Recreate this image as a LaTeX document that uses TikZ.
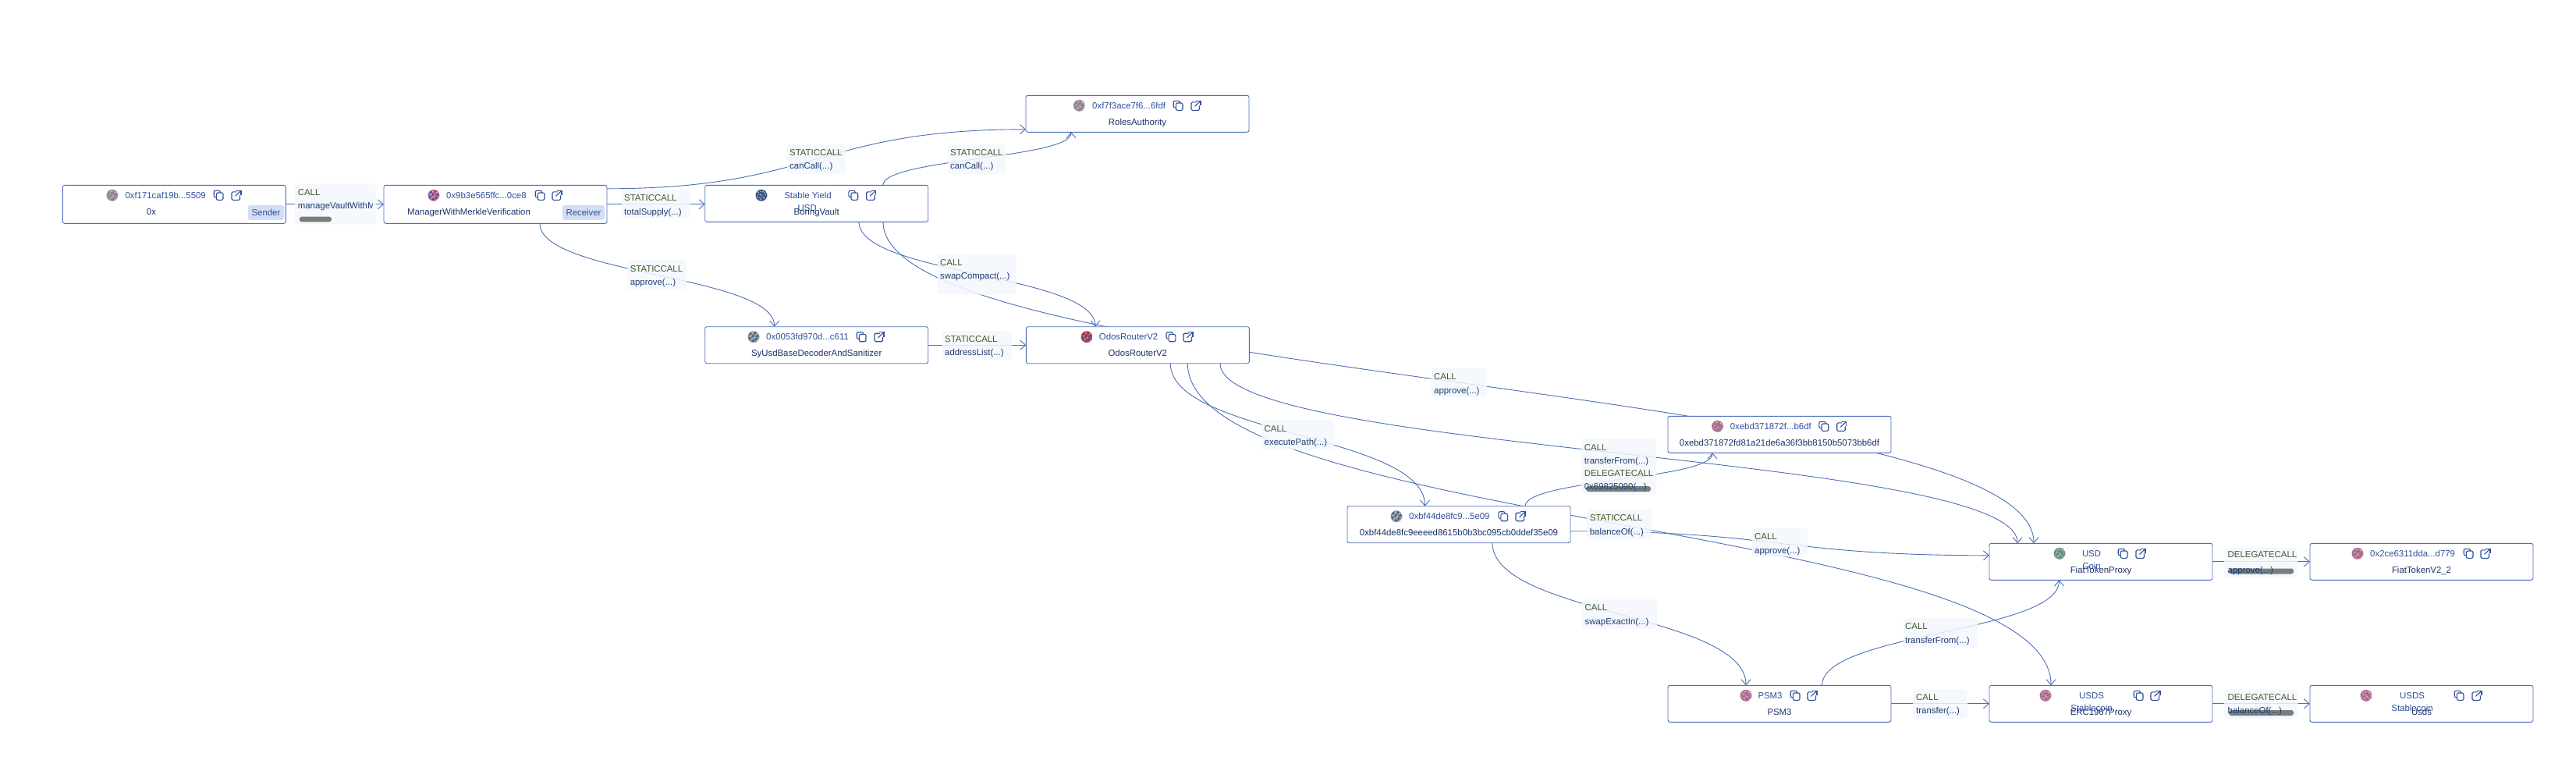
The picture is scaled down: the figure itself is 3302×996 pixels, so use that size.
\documentclass[tikz,border=0pt]{standalone}
\usepackage{xcolor}
\usepackage{fontspec}
\setmainfont{Liberation Sans}
\usetikzlibrary{arrows.meta}
\definecolor{flowblue}{HTML}{4C6FB8}
\definecolor{addrblue}{HTML}{2F4F9C}
\definecolor{namenavy}{HTML}{1C3068}
\definecolor{tagfill}{HTML}{D2DEF5}
\definecolor{tagtext}{HTML}{2F4F8C}
\definecolor{calltext}{HTML}{445A2A}
\definecolor{fntext}{HTML}{1F3C74}
\definecolor{lblfill}{HTML}{F4F7FC}
\definecolor{barfill}{HTML}{787D7D}
\definecolor{avgrey}{HTML}{8E9A9A}
\definecolor{avpink}{HTML}{C46A9A}
\definecolor{avnavy}{HTML}{34508C}
\definecolor{avred}{HTML}{C2445E}
\definecolor{avgreen}{HTML}{6F9A80}
\pgfdeclarelayer{edges}
\pgfsetlayers{edges,main}
\tikzset{
  boxnode/.style={draw=flowblue, fill=white, line width=0.9pt, rounded corners=2.5pt, minimum width=286pt, minimum height=47pt, inner sep=0pt, outer sep=0pt},
  addrtext/.style={text=addrblue, inner sep=0pt, font=\fontsize{11.4}{11.4}\selectfont},
  nametext/.style={text=namenavy, inner sep=0pt, font=\fontsize{11.4}{11.4}\selectfont},
  tagnode/.style={fill=tagfill, text=tagtext, rounded corners=3pt, minimum height=19pt, inner sep=0pt, font=\fontsize{11.4}{11.4}\selectfont},
  typetext/.style={text=calltext, inner sep=0pt, font=\fontsize{11.4}{11.4}\selectfont},
  fntextnode/.style={text=fntext, inner sep=0pt, font=\fontsize{11.4}{11.4}\selectfont},
  lblbg/.style={fill=lblfill, fill opacity=0.85, rounded corners=4pt, inner sep=0pt},
  scrollbar/.style={fill=barfill, rounded corners=3pt},
  flow/.style={draw=flowblue, line width=0.9pt, -{Straight Barb[length=7pt,width=12pt]}},
  pics/copyicon/.style={code={
    \draw[addrblue, line width=1.1pt, rounded corners=2pt] (-2.7,-3.3) rectangle (6,6);
    \draw[addrblue, line width=1.1pt, rounded corners=2pt] (-3.2,2.5) -- (-5.8,2.5) -- (-5.8,-6) -- (2.5,-6) -- (2.5,-3.5);
  }},
  pics/exticon/.style={code={
    \draw[addrblue, line width=1.1pt, rounded corners=1.5pt] (0.5,-4.5) -- (-6,-4.5) -- (-6,6) -- (4.5,6) -- (4.5,0);
    \draw[addrblue, line width=1.1pt] (-1.5,1) -- (6,-6);
    \draw[addrblue, line width=1.1pt] (0,-6) -- (6,-6) -- (6,0);
  }},
  pics/avatar/.style 2 args={code={
    \begin{scope}
      \clip (0,0) circle (7.5);
      \fill[#1] (0,0) circle (7.5);
      \foreach \ax/\ay in {-4/-4,2/-5,5/-1,-1/-1,-5/2,3/3,-1/5}
        \fill[#2] (\ax,\ay) circle (1.5);
      \foreach \ax/\ay in {-1/-5,4/-4,1/1,-4/-1,-2/3,5/5}
        \fill[white, opacity=0.6] (\ax,\ay) circle (0.9);
      \foreach \ax/\ay in {-6/-1,1/-3,3/0,-3/1,1/5}
        \fill[avnavy, opacity=0.7] (\ax,\ay) circle (0.8);
    \end{scope}
  }},
}

\begin{document}
\begin{tikzpicture}[x=1pt, y=-1pt]
  \useasboundingbox (0,0) rectangle (3302,996);

  % Row of the sender
  \begin{scope}[shift={(80.3,237.3)}]
    \node[boxnode, minimum height=49pt] (src) at (143,24.5) {};
    \pic at (63.7,13) {avatar={avgrey}{avpink}};
    \node[addrtext, anchor=base west] (srcaddr) at (80,17) {0xf171caf19b...5509};
    \pic at (199.7,13) {copyicon};
    \pic at (222.7,13) {exticon};
    \node[nametext, anchor=base] (srcname) at (113.7,38) {0x};
    \node[tagnode, minimum width=46.3pt] (srctag) at (260.7,35) {Sender};
  \end{scope}

  \begin{scope}[shift={(492,237.3)}]
    \node[boxnode, minimum height=49pt] (mgr) at (143,24.5) {};
    \pic at (64,13) {avatar={avpink}{avnavy}};
    \node[addrtext, anchor=base west] (mgraddr) at (80,17) {0x9b3e565ffc...0ce8};
    \pic at (200,13) {copyicon};
    \pic at (222,13) {exticon};
    \node[nametext, anchor=base] (mgrname) at (109,38) {ManagerWithMerkleVerification};
    \node[tagnode, minimum width=54pt] (mgrtag) at (256,35) {Receiver};
  \end{scope}

  \begin{scope}[shift={(903.7,237.3)}]
    \node[boxnode] (vault) at (143,23.5) {};
    \pic at (72.3,13) {avatar={avnavy}{avgrey}};
    \node[addrtext, anchor=base] (vaultaddr) at (131.8,17) {Stable Yield};
    \node[addrtext, anchor=base] (vaultaddrb) at (131,33) {USD};
    \pic at (190,13) {copyicon};
    \pic at (213,13) {exticon};
    \node[nametext, anchor=base] (vaultname) at (143,38) {BoringVault};
  \end{scope}

  \begin{scope}[shift={(1315,122.3)}]
    \node[boxnode] (roles) at (143,23.5) {};
    \pic at (68.4,13) {avatar={avgrey}{avpink}};
    \node[addrtext, anchor=base west] (rolesaddr) at (85,17) {0xf7f3ace7f6...6fdf};
    \pic at (195,13) {copyicon};
    \pic at (218,13) {exticon};
    \node[nametext, anchor=base] (rolesname) at (143,38) {RolesAuthority};
  \end{scope}

  % Middle row
  \begin{scope}[shift={(903.7,418.7)}]
    \node[boxnode] (dec) at (143,23.5) {};
    \pic at (62.3,13) {avatar={avgrey}{avnavy}};
    \node[addrtext, anchor=base west] (decaddr) at (78.3,17) {0x0053fd970d...c611};
    \pic at (200.3,13) {copyicon};
    \pic at (223.3,13) {exticon};
    \node[nametext, anchor=base] (decname) at (143,38) {SyUsdBaseDecoderAndSanitizer};
  \end{scope}

  \begin{scope}[shift={(1315.3,418.7)}]
    \node[boxnode] (odos) at (143,23.5) {};
    \pic at (77.7,13) {avatar={avred}{avnavy}};
    \node[addrtext, anchor=base] (odosaddr) at (131.3,17) {OdosRouterV2};
    \pic at (185.5,13) {copyicon};
    \pic at (207.7,13) {exticon};
    \node[nametext, anchor=base] (odosname) at (143,38) {OdosRouterV2};
  \end{scope}

  \begin{scope}[shift={(1727,648.7)}]
    \node[boxnode] (exec) at (143,23.5) {};
    \pic at (63,13) {avatar={avgrey}{avnavy}};
    \node[addrtext, anchor=base west] (execaddr) at (79,17) {0xbf44de8fc9...5e09};
    \pic at (199.6,13) {copyicon};
    \pic at (222,13) {exticon};
    \node[nametext, anchor=base] (execname) at (143,38) {0xbf44de8fc9eeeed8615b0b3bc095cb0ddef35e09};
  \end{scope}

  \begin{scope}[shift={(2138,533.3)}]
    \node[boxnode] (pool) at (143,23.5) {};
    \pic at (63.6,13) {avatar={avpink}{avgreen}};
    \node[addrtext, anchor=base west] (pooladdr) at (79.6,17) {0xebd371872f...b6df};
    \pic at (199.7,13) {copyicon};
    \pic at (222.7,13) {exticon};
    \node[nametext, anchor=base] (poolname) at (143,38) {0xebd371872fd81a21de6a36f3bb8150b5073bb6df};
  \end{scope}

  % Token proxies and their implementations
  \begin{scope}[shift={(2550,696.3)}]
    \node[boxnode] (fiat) at (143,23.5) {};
    \pic at (90,13) {avatar={avgreen}{avgrey}};
    \node[addrtext, anchor=base] (fiataddr) at (131,17) {USD};
    \node[addrtext, anchor=base] (fiataddrb) at (131,33) {Coin};
    \pic at (171,13) {copyicon};
    \pic at (194,13) {exticon};
    \node[nametext, anchor=base] (fiatname) at (143,38) {FiatTokenProxy};
  \end{scope}

  \begin{scope}[shift={(2961,696.3)}]
    \node[boxnode] (fiatimpl) at (143,23.5) {};
    \pic at (61,13) {avatar={avpink}{avgreen}};
    \node[addrtext, anchor=base west] (fiatimpladdr) at (77,17) {0x2ce6311dda...d779};
    \pic at (203,13) {copyicon};
    \pic at (225,13) {exticon};
    \node[nametext, anchor=base] (fiatimplname) at (143,38) {FiatTokenV2\_2};
  \end{scope}

  \begin{scope}[shift={(2138,878.3)}]
    \node[boxnode] (psm) at (143,23.5) {};
    \pic at (100,13) {avatar={avpink}{avgrey}};
    \node[addrtext, anchor=base] (psmaddr) at (131,17) {PSM3};
    \pic at (163,13) {copyicon};
    \pic at (185,13) {exticon};
    \node[nametext, anchor=base] (psmname) at (143,38) {PSM3};
  \end{scope}

  \begin{scope}[shift={(2550,878.3)}]
    \node[boxnode] (erc) at (143,23.5) {};
    \pic at (72,13) {avatar={avpink}{avgrey}};
    \node[addrtext, anchor=base] (ercaddr) at (131,17) {USDS};
    \node[addrtext, anchor=base] (ercaddrb) at (131,33) {Stablecoin};
    \pic at (191,13) {copyicon};
    \pic at (213,13) {exticon};
    \node[nametext, anchor=base] (ercname) at (143,38) {ERC1967Proxy};
  \end{scope}

  \begin{scope}[shift={(2961,878.3)}]
    \node[boxnode] (usds) at (143,23.5) {};
    \pic at (72,13) {avatar={avpink}{avgrey}};
    \node[addrtext, anchor=base] (usdsaddr) at (131,17) {USDS};
    \node[addrtext, anchor=base] (usdsaddrb) at (131,33) {Stablecoin};
    \pic at (191,13) {copyicon};
    \pic at (214,13) {exticon};
    \node[nametext, anchor=base] (usdsname) at (143,38) {Usds};
  \end{scope}

  % Connectors run under the boxes
  \begin{pgfonlayer}{edges}
    \fill[white] (0,0) rectangle (3302,996);
    \draw[flow] (src.east) -- (mgr.west);
    \draw[flow] (mgr.east) -- ([yshift=-1pt]vault.west);
    \draw[flow] (dec.east) -- (odos.west);
    \draw[flow] (psm.east) -- (erc.west);
    \draw[flow] (fiat.east) -- (fiatimpl.west);
    \draw[flow] (erc.east) -- (usds.west);
    \draw[flow] ([yshift=20pt]mgr.east) .. controls +(268.5,0) and +(-268.5,0) .. ([yshift=-20pt]roles.west);
    \draw[flow] ([xshift=85.3pt]vault.north) .. controls +(0,-34) and +(0,34) .. ([xshift=-85pt]roles.south);
    \draw[flow] ([xshift=57pt]mgr.south) .. controls +(0,66.2) and +(0,-66.2) .. ([xshift=-54pt]dec.north);
    \draw[flow] ([xshift=54.3pt]vault.south) .. controls +(0,67.2) and +(0,-67.2) .. ([xshift=-54.3pt]odos.north);
    \draw[flow] ([xshift=85.3pt]vault.south) .. controls +(0,206) and +(0,-206) .. ([xshift=-86pt]fiat.north);
    \draw[flow] ([xshift=42pt]odos.south) .. controls +(0,91.5) and +(0,-91.5) .. ([xshift=-43.5pt]exec.north);
    \draw[flow] ([xshift=64pt]odos.south) .. controls +(0,206.3) and +(0,-206.3) .. ([xshift=-64pt]erc.north);
    \draw[flow] ([xshift=105.7pt]odos.south) .. controls +(0,115.3) and +(0,-115.3) .. ([xshift=-107pt]fiat.north);
    \draw[flow] ([xshift=85pt]exec.north) .. controls +(0,-34) and +(0,34) .. ([xshift=-86pt]pool.south);
    \draw[flow] ([yshift=-8.5pt]exec.east) .. controls +(269,0) and +(-269,0) .. ([yshift=8pt]fiat.west);
    \draw[flow] ([xshift=43pt]exec.south) .. controls +(0,91.3) and +(0,-91.3) .. ([xshift=-43pt]psm.north);
    \draw[flow] ([xshift=54.6pt]psm.north) .. controls +(0,-67.5) and +(0,67.5) .. ([xshift=-53.5pt]fiat.south);
  \end{pgfonlayer}

  % Edge labels
  \node[lblbg, minimum width=104pt, minimum height=52pt] (lblvault) at (430,261.7) {};
  \node[typetext, anchor=base west] (lblvaulttype) at (381.7,250.3) {CALL};
  \begin{scope}
    \clip (378,250) rectangle (477,275);
    \node[fntextnode, anchor=base west] (lblvaultfn) at (381.7,267.3) {manageVaultWithM};
  \end{scope}
  \fill[scrollbar] (383.7,277.7) rectangle (425,284.3);

  \node[lblbg, minimum width=88pt, minimum height=37pt] (lblsupply) at (841,261.5) {};
  \node[typetext, anchor=base west] (lblsupplytype) at (800,257) {STATICCALL};
  \node[fntextnode, anchor=base west] (lblsupplyfn) at (800,275) {totalSupply(...)};

  \node[lblbg, minimum width=75pt, minimum height=38pt] (lblcana) at (1046.5,204) {};
  \node[typetext, anchor=base west] (lblcanatype) at (1012,199) {STATICCALL};
  \node[fntextnode, anchor=base west] (lblcanafn) at (1012,216.7) {canCall(...)};

  \node[lblbg, minimum width=74pt, minimum height=38pt] (lblcanb) at (1252,204) {};
  \node[typetext, anchor=base west] (lblcanbtype) at (1218,199) {STATICCALL};
  \node[fntextnode, anchor=base west] (lblcanbfn) at (1218,216.7) {canCall(...)};

  \node[lblbg, minimum width=76pt, minimum height=38pt] (lblappa) at (842,352) {};
  \node[typetext, anchor=base west] (lblappatype) at (807.6,348) {STATICCALL};
  \node[fntextnode, anchor=base west] (lblappafn) at (807.6,365.7) {approve(...)};

  \node[lblbg, minimum width=101pt, minimum height=52pt] (lblswap) at (1252,351.7) {};
  \node[typetext, anchor=base west] (lblswaptype) at (1205,340) {CALL};
  \node[fntextnode, anchor=base west] (lblswapfn) at (1205,357.7) {swapCompact(...)};

  \node[lblbg, minimum width=89pt, minimum height=37pt] (lbladdr) at (1252.5,442.5) {};
  \node[typetext, anchor=base west] (lbladdrtype) at (1211,438) {STATICCALL};
  \node[fntextnode, anchor=base west] (lbladdrfn) at (1211,455.7) {addressList(...)};

  \node[lblbg, minimum width=71pt, minimum height=37pt] (lblappb) at (1870,490) {};
  \node[typetext, anchor=base west] (lblappbtype) at (1838,486) {CALL};
  \node[fntextnode, anchor=base west] (lblappbfn) at (1838,504) {approve(...)};

  \node[lblbg, minimum width=93pt, minimum height=38pt] (lblexec) at (1663.5,557) {};
  \node[typetext, anchor=base west] (lblexectype) at (1620.5,553) {CALL};
  \node[fntextnode, anchor=base west] (lblexecfn) at (1620.5,570.7) {executePath(...)};

  \node[lblbg, minimum width=96pt, minimum height=37pt] (lblfrom) at (2075,581) {};
  \node[typetext, anchor=base west] (lblfromtype) at (2030.6,577) {CALL};
  \node[fntextnode, anchor=base west] (lblfromfn) at (2030.6,594.7) {transferFrom(...)};

  \node[lblbg, minimum width=96pt, minimum height=37pt] (lbldeleg) at (2075,615) {};
  \fill[scrollbar] (2033,623) rectangle (2116,630);
  \node[typetext, anchor=base west] (lbldelegtype) at (2030.6,610) {DELEGATECALL};
  \node[fntextnode, anchor=base west] (lbldelegfn) at (2030.6,627) {0x69825090(...)};

  \node[lblbg, minimum width=83pt, minimum height=38pt] (lblbal) at (2075.5,672) {};
  \node[typetext, anchor=base west] (lblbaltype) at (2037.6,667) {STATICCALL};
  \node[fntextnode, anchor=base west] (lblbalfn) at (2037.6,685.7) {balanceOf(...)};

  \node[lblbg, minimum width=71pt, minimum height=37pt] (lblappc) at (2281.5,695) {};
  \node[typetext, anchor=base west] (lblappctype) at (2249,691) {CALL};
  \node[fntextnode, anchor=base west] (lblappcfn) at (2249,709.7) {approve(...)};

  \node[lblbg, minimum width=96pt, minimum height=38pt] (lblexact) at (2075.8,787) {};
  \node[typetext, anchor=base west] (lblexacttype) at (2031.5,782) {CALL};
  \node[fntextnode, anchor=base west] (lblexactfn) at (2031.5,800.7) {swapExactIn(...)};

  \node[lblbg, minimum width=95pt, minimum height=38pt] (lblfromb) at (2487.5,811) {};
  \node[typetext, anchor=base west] (lblfrombtype) at (2442,806) {CALL};
  \node[fntextnode, anchor=base west] (lblfrombfn) at (2442,824) {transferFrom(...)};

  \node[lblbg, minimum width=70pt, minimum height=38pt] (lbltrans) at (2487,902) {};
  \node[typetext, anchor=base west] (lbltranstype) at (2456,897) {CALL};
  \node[fntextnode, anchor=base west] (lbltransfn) at (2456,914.7) {transfer(...)};

  \node[lblbg, minimum width=94pt, minimum height=38pt] (lbldela) at (2898,720.5) {};
  \fill[scrollbar] (2857,728.5) rectangle (2940,735.5);
  \node[typetext, anchor=base west] (lbldelatype) at (2855.5,714.7) {DELEGATECALL};
  \node[fntextnode, anchor=base west] (lbldelafn) at (2855.5,734) {approve(...)};

  \node[lblbg, minimum width=95pt, minimum height=38pt] (lbldelb) at (2898,902) {};
  \fill[scrollbar] (2857,910) rectangle (2940,917);
  \node[typetext, anchor=base west] (lbldelbtype) at (2855.5,897) {DELEGATECALL};
  \node[fntextnode, anchor=base west] (lbldelbfn) at (2855.5,914.7) {balanceOf(...)};
\end{tikzpicture}
\end{document}
